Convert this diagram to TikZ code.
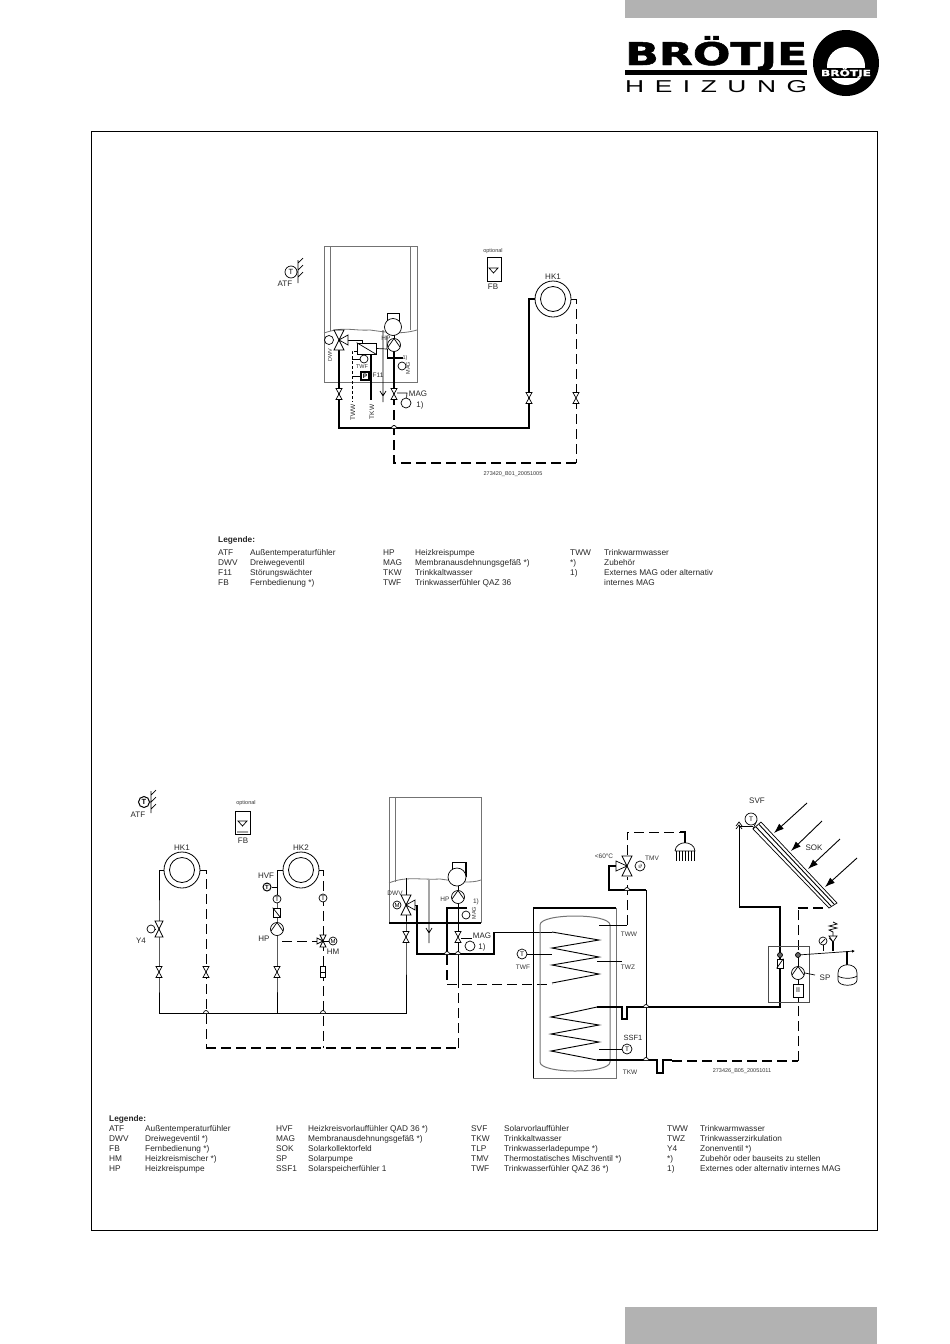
\documentclass[tikz,border=0pt]{standalone}
\usepackage{fontspec}
\usepackage{graphicx}
\setmainfont{Liberation Sans}
\newfontfamily\logofont[BoldFeatures={FakeBold=1.5}]{DejaVu Sans}
\usetikzlibrary{arrows.meta}
\newcounter{lg}
\newcommand\lgd[3]{\stepcounter{lg}\node[legendtext] (lg\arabic{lg}) at (#1,#2) {#3};}
\newcommand\bumpat[1]{\draw[thinpipe,fill=white] ([xshift=-2.5pt]#1) arc (180:360:2.5);}
\tikzset{
  x=1pt,y=-1pt,
  legendtext/.style={anchor=base west,inner sep=0,font=\fontsize{8.3}{10}\selectfont,text=black!85},
  lab/.style={inner sep=0,font=\fontsize{8}{9}\selectfont,text=black!85},
  tiny/.style={inner sep=0,font=\fontsize{5.5}{6}\selectfont,text=black!80},
  sens/.style={circle,draw,fill=white,inner sep=0,minimum size=#1,font=\fontsize{6.5}{7}\selectfont,line width=.7pt},
  sens/.default=9pt,
  thinpipe/.style={line width=.7pt},
  thickpipe/.style={line width=1.7pt},
  thickdash/.style={line width=1.7pt,dash pattern=on 10pt off 5pt},
  thindash/.style={line width=.8pt,dash pattern=on 10pt off 5pt},
  casing/.style={draw=black!55,line width=.8pt},
  gate/.pic={\draw[thinpipe,fill=white] (-3,-5.5)--(3,-5.5)--(-3,5.5)--(3,5.5)--cycle;},
  twoway/.pic={\draw[thinpipe,fill=white] (-4,-8)--(4,-8)--(-4,8)--(4,8)--cycle;},
  threeright/.pic={\draw[thinpipe,fill=white] (-5,-10)--(5,-10)--(0,0)--cycle (-5,10)--(5,10)--(0,0)--cycle (9,-5)--(9,5)--(0,0)--cycle;},
  threeleft/.pic={\draw[thinpipe,fill=white] (-5,-10)--(5,-10)--(0,0)--cycle (-5,10)--(5,10)--(0,0)--cycle (-11,-5)--(-11,5)--(0,0)--cycle;},
  pump/.pic={\draw[thinpipe,fill=white] (0,0) circle (6.5); \draw[thinpipe] (-6,2)--(0,-6.5)--(6,2);},
  hkring/.pic={\draw[line width=.8pt,fill=white] (0,0) circle (18); \draw[line width=.8pt] (0,0) circle (12.5);},
  bigarrow/.style={line width=.9pt,-{Latex[length=10pt,width=7pt]}},
}
\begin{document}
\begin{tikzpicture}
\useasboundingbox (0,0) rectangle (950,1344);
% page furniture
\fill[black!30] (625,0) rectangle (877,18);
\fill[black!30] (625,1307) rectangle (877,1344);
\draw[line width=.8pt] (91,131) rectangle (877,1230);
% logo
\node[anchor=base west,inner sep=0] (logoa) at (625,65) {\resizebox{182pt}{29pt}{\logofont\bfseries BRÖTJE}};
\fill (625,70) rectangle (807,75);
\node[anchor=base west,inner sep=0] (logob) at (625,92) {\resizebox{182pt}{12pt}{H\hspace{.4em}E\hspace{.4em}I\hspace{.4em}Z\hspace{.4em}U\hspace{.4em}N\hspace{.4em}G}};
\fill (846,63) circle (33);
\fill[white] (846,66) circle (19);
\fill (817,68) rectangle (875,78);
\node[anchor=center,inner sep=0] (logoc) at (846,73) {\resizebox{50pt}{8pt}{\color{white}\logofont\bfseries BRÖTJE}};

%%%%%%%%%% diagram 1
% boiler casing
\draw[casing] (324,246) rectangle (417,382);
\draw[casing] (330,246)--(330,331) (410,246)--(410,330);
\draw[casing] (324,333) .. controls (345,326) and (352,331) .. (370,330) .. controls (385,332) and (400,335) .. (417,330);
\draw[thinpipe] (387,313)--(387,327) (399,313)--(399,327) (387,313)--(399,313);
\node[sens=17pt] (aburn) at (393,327) {};
\coordinate (avdwv) at (339,340);
\coordinate (avp) at (394,345);
\coordinate (av1) at (339,394);
\coordinate (av2) at (394,394);
\coordinate (av3) at (529,398);
\coordinate (av4) at (576,398);
\coordinate (acr) at (394,428);
\coordinate (ahk) at (553,299);
% ring
\pic at (ahk) {hkring};
\node[lab] (ahklab) at (553,277) {HK1};
% pipes
\draw[thickpipe] (avdwv) -- (av1) -- (339,428) -- (acr) -- (529,428) -- (av3) -- (529,299) -- (535,299);
\draw[thindash] (571,299) -- (576,299) -- (av4) -- (576,463);
\draw[thickdash] (576,463) -- (394,463) -- (acr) -- (av2);
\draw[thickpipe] (av2) -- (394,351);
\draw[thinpipe] (394,335) -- (394,339);
\bumpat{acr}
\pic at (av1) {gate};\pic at (av2) {gate};\pic at (av3) {gate};\pic at (av4) {gate};
% dwv
\draw[thinpipe] (347,340)--(362,340)--(362,343);
\node[draw,fill=white,thinpipe,inner sep=0,minimum width=19pt,minimum height=11pt] (aex) at (366.5,348.5) {};
\draw[thinpipe] (aex.north west)--(aex.south east);
\pic at (avdwv) {threeright};
\node[sens=9pt] (adwvm) at (329,340) {};
\node[tiny,rotate=90] (adwvt) at (330,355) {DWV};
\draw[thinpipe] (aex.east) -- (387,349) -- (387,336);
\draw[thinpipe] (387,349) -- (387,358);
\draw[thickpipe] (387,358) -- (403,358);
\draw[thickpipe] (371,354) -- (371,400);
\draw[thinpipe] (383,330)--(383,396)--(380,391) (383,396)--(386,391) (383,396)--(383,402);
\pic at (avp) {pump};
\node[tiny,font=\fontsize{6.5}{7}\selectfont] (ahp) at (386,338) {HP};
\node[sens=8pt] (amagi) at (402,366) {};
\node[tiny] (a1i) at (405,358) {1)};
\node[tiny,rotate=90] (amagit) at (408,368) {MAG};
% TWF, F11, TWW
\draw[thinpipe,densely dashed] (357,351)--(352,351)--(352,402);
\node[sens=8pt] (atwf) at (364,359) {};
\draw[thinpipe] (352,359)--(atwf);
\node[tiny] (atwft) at (362,367) {TWF};
\node[draw,fill=white,line width=1.1pt,inner sep=0,minimum width=8pt,minimum height=8pt,font=\fontsize{6.5}{7}\bfseries] (af11) at (365,376) {P};
\draw[thinpipe] (352,376)--(af11);
\node[lab,font=\fontsize{6.5}{7}\selectfont] (af11t) at (378,375) {F11};
\node[lab,rotate=90,font=\fontsize{6.5}{7}\selectfont] (atwwt) at (353,412) {TWW};
\node[lab,rotate=90,font=\fontsize{6.5}{7}\selectfont] (atkwt) at (372,412) {TKW};
% MAG external
\node[sens=10pt] (amage) at (406,403) {};
\draw[thinpipe] (397,393)--(407,393)--(amage);
\node[lab] (amagt) at (418,394) {MAG};
\node[lab] (a1e) at (420,405) {1)};
% ATF
\node[sens=12pt,font=\fontsize{7.5}{8}\selectfont] (aatf) at (291,272) {T};
\draw[thinpipe] (297,272)--(298,272) (298,260)--(298,283) (298,263)--(303,258) (298,270)--(303,265) (298,277)--(303,272) ;
\node[lab] (aatft) at (285,284) {ATF};
% FB
\node[draw,thinpipe,inner sep=0,minimum width=14pt,minimum height=24pt] (afb) at (494,269) {};
\draw[thinpipe] (489,268)--(498,268)--(493.5,273)--cycle;
\node[tiny] (aopt) at (493,251) {optional};
\node[lab] (afbt) at (493,287) {FB};
\node[tiny] (aid) at (513,474) {273420\_B01\_20051005};

% legend 1
\node[legendtext,font=\fontsize{8.3}{10}\bfseries] (l1h) at (218,542) {Legende:};
\lgd{218}{555}{ATF}\lgd{250}{555}{Außentemperaturfühler}\lgd{383}{555}{HP}\lgd{415}{555}{Heizkreispumpe}\lgd{570}{555}{TWW}\lgd{604}{555}{Trinkwarmwasser}
\lgd{218}{565}{DWV}\lgd{250}{565}{Dreiwegeventil}\lgd{383}{565}{MAG}\lgd{415}{565}{Membranausdehnungsgefäß *)}\lgd{570}{565}{*)}\lgd{604}{565}{Zubehör}
\lgd{218}{575}{F11}\lgd{250}{575}{Störungswächter}\lgd{383}{575}{TKW}\lgd{415}{575}{Trinkkaltwasser}\lgd{570}{575}{1)}\lgd{604}{575}{Externes MAG oder alternativ}
\lgd{218}{585}{FB}\lgd{250}{585}{Fernbedienung *)}\lgd{383}{585}{TWF}\lgd{415}{585}{Trinkwasserfühler QAZ 36}\lgd{604}{585}{internes MAG}

%%%%%%%%%% diagram 2
% ATF, FB
\node[sens=11pt,line width=1pt,font=\fontsize{7.5}{8}\bfseries] (batf) at (144,802) {T};
\draw[thinpipe] (150,802)--(151,802) (151,791)--(151,813) (151,795)--(156,790) (151,802)--(156,797) (151,809)--(156,804);
\node[lab] (batft) at (138,815) {ATF};
\node[draw,thinpipe,inner sep=0,minimum width=15pt,minimum height=23pt] (bfb) at (242.5,822.5) {};
\draw[thinpipe] (238,821)--(247,821)--(242.5,826)--cycle (237,832)--(248,832);
\node[tiny] (bopt) at (246,803) {optional};
\node[lab] (bfbt) at (243,841) {FB};
% rings
\coordinate (bhk1) at (182,870);
\coordinate (bhk2) at (301,870);
\pic at (bhk1) {hkring};
\pic at (bhk2) {hkring};
\node[lab] (bhk1t) at (182,848) {HK1};
\node[lab] (bhk2t) at (301,848) {HK2};
% named points
\coordinate (by4) at (159,929);
\coordinate (bv1) at (159,972);
\coordinate (bv2) at (206,972);
\coordinate (bv3) at (277,972);
\coordinate (bv4) at (323,972);
\coordinate (bcr1) at (206,1013);
\coordinate (bcr2) at (323,1013);
\coordinate (bdwv) at (406,905);
\coordinate (bv5) at (406,937);
\coordinate (bv6) at (458,937);
\coordinate (bp) at (458,897);
\coordinate (bhp) at (277,929);
\coordinate (bmix) at (323,941);
% flow HK1/HK2
\draw[thinpipe] (164,870)--(159,870)--(by4)--(bv1)--(159,1013)--(bcr1)--(277,1013)--(bcr2)--(406,1013)--(bv5)--(bdwv);
\draw[thinpipe] (277,1013)--(bv3)--(bhp)--(277,870)--(283,870);
\draw[thindash] (200,870)--(206,870)--(bv2)--(bcr1)--(206,1048);
\draw[thindash] (319,870)--(323,870)--(bmix)--(bv4)--(bcr2)--(323,1048);
\draw[thickdash] (206,1048)--(458,1048);
\draw[thindash] (458,1048)--(458,984);
\bumpat{bcr1}\bumpat{bcr2}
\pic at (by4) {twoway};
\node[sens=8pt] (by4m) at (151,929) {};
\draw[thinpipe] (by4m)--(155,929);
\node[lab] (by4t) at (141,941) {Y4};
\pic at (bv1) {gate};\pic at (bv2) {gate};\pic at (bv3) {gate};\pic at (bv5) {gate};
\node[draw,fill=white,thinpipe,inner sep=0,minimum width=5pt,minimum height=11pt] (bv4b) at (bv4) {};
\draw[thinpipe] (bv4b.west)--(bv4b.east);
\node[sens=8pt,line width=1pt,font=\fontsize{6}{7}\bfseries] (bhvf) at (267,887) {T};
\draw[thinpipe] (bhvf)--(277,887);
\node[lab] (bhvft) at (266,876) {HVF};
\node[sens=8pt] (bt2) at (277,899) {T};
\node[draw,fill=white,thinpipe,inner sep=0,minimum width=7pt,minimum height=9pt] (bchk) at (276.5,912.5) {};
\draw[thinpipe] (bchk.north west)--(bchk.south east);
\pic at (bhp) {pump};
\node[lab] (bhpt) at (264,939) {HP};
\draw[thindash] (282,941)--(318,941);
\node[sens=8pt] (bt3) at (323,898) {T};
\draw[thinpipe,fill=white] (323,941)--(320,935)--(326,935)--cycle (323,941)--(320,947)--(326,947)--cycle (323,941)--(317,938)--(317,944)--cycle;
\node[sens=8pt,font=\fontsize{6}{7}\selectfont] (bmixm) at (333,941) {M};
\draw[thinpipe] (bmix)--(bmixm);
\node[lab] (bhmt) at (333,952) {HM};
% boiler
\draw[casing] (389,923)--(389,797)--(481,797)--(481,923);
\draw[casing] (395,797)--(395,882);
\draw[casing] (389,883) .. controls (405,876) and (420,880) .. (440,879) .. controls (455,881) and (470,884) .. (481,880);
\draw[thickpipe] (389,923)--(481,923);
\draw[thinpipe] (452,877)--(452,862)--(466,862);
\draw[thickpipe] (466,862)--(466,877);
\node[sens=18pt] (bburn) at (457,877) {};
\draw[thinpipe] (406,878)--(bdwv);
\draw[thinpipe] (458,886)--(458,891);
% boiler piping
\draw[thinpipe] (bp)--(bv6);
\draw[thickpipe] (467,908)--(447,908)--(447,955);
\draw[thickdash] (447,955)--(447,984);
\draw[thinpipe] (bdwv)--(417,905);
\draw[thickpipe] (417,905)--(417,954)--(494,954)--(494,932);
\draw[thinpipe] (494,932)--(552,932);
\draw[thinpipe] (458,943)--(458,984);
\draw[thindash] (447,984)--(552,984);
\draw[thinpipe,fill=white] (444.5,954) arc (180:360:2.5);
\draw[thinpipe,fill=white] (455.5,954) arc (180:360:2.5);
\pic at (bv6) {gate};
\pic at (bp) {pump};
\pic at (bdwv) {threeright};
\node[sens=8pt,font=\fontsize{6}{7}\selectfont] (bdwvm) at (397,905) {M};
\node[tiny,font=\fontsize{6.5}{7}\selectfont] (bdwvt) at (395,893) {DWV};
\node[tiny,font=\fontsize{6.5}{7}\selectfont] (bhpi) at (445,899) {HP};
\draw[thinpipe] (429,880)--(429,943) (429,933)--(426,928) (429,933)--(432,928);
\node[sens=8pt] (bmagi) at (466,915) {};
\node[tiny,font=\fontsize{6.5}{7}\selectfont] (b1i) at (476,902) {1)};
\node[tiny,rotate=90] (bmagit) at (474,913) {MAG};
\node[sens=10pt] (bmage) at (470,946) {};
\draw[thinpipe] (461,938)--(472,938);
\node[lab] (bmagt) at (482,936) {MAG};
\node[lab] (b1e) at (482,947) {1)};
% tank
\draw[casing] (533,908) rectangle (616,1078);
\draw[line width=1.6pt] (533,908)--(616,908);
\draw[line width=1pt] (533,908)--(533,1078);
\draw[casing,line width=1pt] (540,1062)--(540,925) .. controls (540,913) and (610,913) .. (610,925)--(610,1062) .. controls (610,1074) and (540,1074) .. (540,1062);
% upper coil
\draw[thinpipe,line width=.9pt] (552,932)--(599,940)--(552,948)--(599,957)--(552,965)--(599,974)--(552,983);
% lower coil
\draw[thinpipe,line width=.9pt] (597,1007)--(551,1017)--(599,1025)--(551,1034)--(599,1042)--(551,1051)--(597,1060);
% sensors
\node[sens=10pt] (btwf) at (522,954) {T};
\draw[thinpipe] (btwf)--(552,954);
\node[tiny,font=\fontsize{6.5}{7}\selectfont] (btwft) at (523,967) {TWF};
\draw[thinpipe] (599,925)--(627,925);
\node[tiny,font=\fontsize{6.5}{7}\selectfont] (btwwt) at (629,934) {TWW};
\draw[line width=1pt] (597,961)--(622,961);
\node[tiny,font=\fontsize{6.5}{7}\selectfont] (btwzt) at (628,967) {TWZ};
\node[sens=10pt] (bssf) at (627,1049) {T};
\draw[thinpipe] (599,1049)--(bssf);
\node[lab,font=\fontsize{7.5}{8}\selectfont] (bssft) at (633,1038) {SSF1};
\node[tiny,font=\fontsize{6.5}{7}\selectfont] (btkwt) at (630,1072) {TKW};
% TMV
\coordinate (btmv) at (627,866);
\draw[thickpipe] (616,866)--(609,866)--(609,890)--(646,890);
\draw[thinpipe] (646,890)--(646,1060);
\draw[thindash] (627,925)--(627,877);
\bumpat{627,890}
\draw[thindash] (627,855)--(627,832)--(680,832);
\draw[line width=1.1pt] (680,832)--(685,832)--(685,843);
\pic at (btmv) {threeleft};
\node[sens=10pt,font=\fontsize{6}{7}\selectfont] (btmvm) at (640,866) {$\vartheta$};
\node[tiny,font=\fontsize{6.5}{7}\selectfont] (btmvt) at (652,858) {TMV};
\node[tiny,font=\fontsize{6.5}{7}\selectfont] (bt60) at (604,856) {<60°C};
% shower
\draw[thinpipe] (675,851) .. controls (676,840) and (694,840) .. (695,851)--(675,851);
\draw[thinpipe] (676,851)--(676,861) (679,851)--(679,861) (682,851)--(682,861) (685,851)--(685,861) (688,851)--(688,861) (691,851)--(691,861) (694,851)--(694,861);
% solar loop
\coordinate (bst1) at (780,955);
\coordinate (bst2) at (798,955);
\draw[thickpipe] (597,1007)--(622,1007)--(622,1019)--(627,1019)--(627,1007)--(780,1007)--(bst1);
\bumpat{646,1007}
\draw[thickpipe] (780,955)--(780,907)--(739,907);
\draw[thinpipe] (739,907)--(739,826)--(753,826);
\draw[thinpipe] (736,829)--(739,825)--(742,829) (736,826)--(739,822)--(742,826);
\draw[thickpipe] (597,1060)--(657,1060)--(657,1073)--(663,1073)--(663,1060)--(672,1060);
\bumpat{646,1060}
\draw[thickdash] (672,1061)--(798,1061);
\draw[thindash] (798,1061)--(798,1003);
\draw[thinpipe] (bst2)--(798,1003);
\draw[thindash] (798,950)--(798,908);
\draw[thickdash] (798,908)--(828,908);
% collector
\draw[thinpipe,fill=white] (761,822)--(837,903)--(829,908)--(753,829)--cycle;
\draw[line width=.9pt] (756,827)--(831,906) (759,824.5)--(834,904);
\draw[thinpipe] (757,820)--(753,829);
\node[sens=12pt] (bsvf) at (751,819) {T};
\node[lab] (bsvft) at (757,801) {SVF};
\node[lab] (bsokt) at (814,848) {SOK};
\draw[bigarrow] (807,803)--(774,833);
\draw[bigarrow] (822,821)--(791,851);
\draw[bigarrow] (840,839)--(808,869);
\draw[bigarrow] (857,858)--(825,887);
% solar station
\draw[casing,draw=black!70] (768,946) rectangle (809,1002);
\node[sens=5pt,fill=black!60] (bc1) at (bst1) {};
\node[sens=5pt,fill=black!60] (bc2) at (bst2) {};
\node[draw,fill=white,thinpipe,inner sep=0,minimum width=6pt,minimum height=9pt] (bchk2) at (780,963.5) {};
\draw[thinpipe] (bchk2.south west)--(bchk2.north east);
\pic at (798,973) {pump};
\node[draw,fill=white,thinpipe,inner sep=0,minimum width=10pt,minimum height=13pt,font=\fontsize{7}{8}\selectfont] (bsta) at (798,990.5) {II};
\draw[thinpipe] (805,973)--(815,975);
\node[lab] (bspt) at (825,978) {SP};
\coordinate (bend) at (855,951);
\draw[thinpipe,-{Latex[length=3pt,width=3pt]}] (bc2)--(bend);
\draw[thinpipe] (823,945)--(823,951);
\node[sens=8pt] (bgauge) at (823,941) {};
\draw[thinpipe] (821,943)--(825,939);
\draw[line width=1.1pt] (833,951)--(833,942);
\draw[thinpipe,fill=white] (833,942)--(829,936)--(837,936)--cycle;
\draw[thinpipe] (833,936)--(833,932)--(829,930)--(837,928)--(829,926)--(837,924)--(833,922) (829,938)--(833,942);
\draw[line width=1.1pt] (847,951)--(847,967);
\draw[thinpipe,fill=white] (838,973) .. controls (838,962) and (857,962) .. (857,973)--(857,980) .. controls (857,987) and (838,987) .. (838,980)--cycle;
\draw[thinpipe] (838,976) .. controls (842,979) and (853,979) .. (857,976);
\node[tiny] (bid) at (742,1071) {273426\_B05\_20051011};

% legend 2
\node[legendtext,font=\fontsize{8.3}{10}\bfseries] (l2h) at (109,1121) {Legende:};
\lgd{109}{1131}{ATF}\lgd{145}{1131}{Außentemperaturfühler}\lgd{276}{1131}{HVF}\lgd{308}{1131}{Heizkreisvorlauffühler QAD 36 *)}\lgd{471}{1131}{SVF}\lgd{504}{1131}{Solarvorlauffühler}\lgd{667}{1131}{TWW}\lgd{700}{1131}{Trinkwarmwasser}
\lgd{109}{1141}{DWV}\lgd{145}{1141}{Dreiwegeventil *)}\lgd{276}{1141}{MAG}\lgd{308}{1141}{Membranausdehnungsgefäß *)}\lgd{471}{1141}{TKW}\lgd{504}{1141}{Trinkkaltwasser}\lgd{667}{1141}{TWZ}\lgd{700}{1141}{Trinkwasserzirkulation}
\lgd{109}{1151}{FB}\lgd{145}{1151}{Fernbedienung *)}\lgd{276}{1151}{SOK}\lgd{308}{1151}{Solarkollektorfeld}\lgd{471}{1151}{TLP}\lgd{504}{1151}{Trinkwasserladepumpe *)}\lgd{667}{1151}{Y4}\lgd{700}{1151}{Zonenventil *)}
\lgd{109}{1161}{HM}\lgd{145}{1161}{Heizkreismischer *)}\lgd{276}{1161}{SP}\lgd{308}{1161}{Solarpumpe}\lgd{471}{1161}{TMV}\lgd{504}{1161}{Thermostatisches Mischventil *)}\lgd{667}{1161}{*)}\lgd{700}{1161}{Zubehör oder bauseits zu stellen}
\lgd{109}{1171}{HP}\lgd{145}{1171}{Heizkreispumpe}\lgd{276}{1171}{SSF1}\lgd{308}{1171}{Solarspeicherfühler 1}\lgd{471}{1171}{TWF}\lgd{504}{1171}{Trinkwasserfühler QAZ 36 *)}\lgd{667}{1171}{1)}\lgd{700}{1171}{Externes oder alternativ internes MAG}
\end{tikzpicture}
\end{document}
